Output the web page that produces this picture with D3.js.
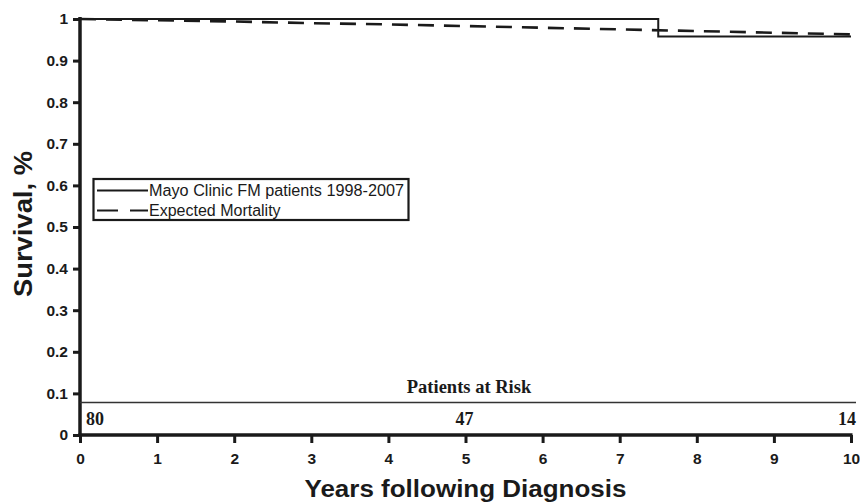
<!DOCTYPE html>
<html>
<head>
<meta charset="utf-8">
<script src="https://cdn.jsdelivr.net/npm/d3@7"></script>
<style>
  html, body { margin: 0; padding: 0; background: #fff; }
  svg { display: block; }
</style>
</head>
<body>
<svg id="chart" width="860" height="504"></svg>
<script>
// ---- data ----
const xTicks = [0, 1, 2, 3, 4, 5, 6, 7, 8, 9, 10];
const yTicks = [0, 0.1, 0.2, 0.3, 0.4, 0.5, 0.6, 0.7, 0.8, 0.9, 1];
const yTickLabels = ["0", "0.1", "0.2", "0.3", "0.4", "0.5", "0.6", "0.7", "0.8", "0.9", "1"];
// Kaplan-Meier (step) survival of observed cohort
const kmYears = [0, 7.5, 10];
const kmSurvival = [1.0, 0.958, 0.958];
// Expected mortality curve
const expYears = [0, 1, 2, 3, 4, 5, 6, 7, 8, 9, 10];
const expSurvival = [1.0, 0.997, 0.994, 0.990, 0.987, 0.983, 0.979, 0.975, 0.971, 0.967, 0.963];
// Patients at risk
const riskYears = [0, 5, 10];
const riskCounts = ["80", "47", "14"];
const seriesNames = ["Mayo Clinic FM patients 1998-2007", "Expected Mortality"];

const svg = d3.select("#chart");
const x = d3.scaleLinear().domain([0, 10]).range([80, 851]);
const y = d3.scaleLinear().domain([0, 1]).range([435, 19]);
const ink = "#1a1a1a";

// axes
const yAxis = d3.axisLeft(y).tickValues(yTicks)
  .tickFormat((d, i) => yTickLabels[i]).tickSize(7).tickSizeOuter(0).tickPadding(5);
const gy = svg.append("g").attr("transform", "translate(80,0)").call(yAxis);
gy.select(".domain").attr("stroke", ink).attr("stroke-width", 3.5)
  .attr("d", `M0,${y(1) - 2}V${y(0) + 2}`);
gy.selectAll(".tick line").attr("stroke", ink).attr("stroke-width", 3);
gy.selectAll(".tick text").attr("fill", ink)
  .style("font-family", "Arial, 'Liberation Sans', sans-serif")
  .style("font-weight", "bold").style("font-size", "15.5px");

const xAxis = d3.axisBottom(x).tickValues(xTicks).tickFormat(d3.format("d"))
  .tickSize(8).tickSizeOuter(0).tickPadding(10);
const gx = svg.append("g").attr("transform", "translate(0,435)").call(xAxis);
gx.select(".domain").attr("stroke", ink).attr("stroke-width", 3.5)
  .attr("d", `M${x(0) - 1.5},0H${x(10) + 1.5}`);
gx.selectAll(".tick line").attr("stroke", ink).attr("stroke-width", 3);
gx.selectAll(".tick text").attr("fill", ink)
  .style("font-family", "Arial, 'Liberation Sans', sans-serif")
  .style("font-weight", "bold").style("font-size", "15.5px");

// titles
svg.append("text")
  .attr("x", x(5)).attr("y", 497)
  .attr("text-anchor", "middle")
  .attr("textLength", 322).attr("lengthAdjust", "spacingAndGlyphs")
  .style("font-family", "Arial, 'Liberation Sans', sans-serif")
  .style("font-weight", "bold").style("font-size", "23px").attr("fill", ink)
  .text("Years following Diagnosis");

svg.append("text")
  .attr("transform", `translate(32,224) rotate(-90)`)
  .attr("text-anchor", "middle")
  .attr("textLength", 146).attr("lengthAdjust", "spacingAndGlyphs")
  .style("font-family", "Arial, 'Liberation Sans', sans-serif")
  .style("font-weight", "bold").style("font-size", "25px").attr("fill", ink)
  .text("Survival, %");

// curves
const kmLine = d3.line().x((d, i) => x(kmYears[i])).y(d => y(d)).curve(d3.curveStepAfter);
const expLine = d3.line().x((d, i) => x(expYears[i])).y(d => y(d));

svg.append("path").datum(expSurvival)
  .attr("d", expLine).attr("fill", "none").attr("stroke", ink)
  .attr("stroke-width", 2.6).attr("stroke-dasharray", "16,10");

svg.append("path").datum(kmSurvival)
  .attr("d", kmLine).attr("fill", "none").attr("stroke", ink)
  .attr("stroke-width", 2);

// patients at risk
svg.append("line")
  .attr("x1", x(0)).attr("x2", x(10) + 5)
  .attr("y1", y(0.078)).attr("y2", y(0.078))
  .attr("stroke", "#333").attr("stroke-width", 1.5);

svg.append("text")
  .attr("x", 469).attr("y", 393)
  .attr("text-anchor", "middle")
  .style("font-family", "'Times New Roman', 'Liberation Serif', serif")
  .style("font-weight", "bold").style("font-size", "18.5px").attr("fill", ink)
  .text("Patients at Risk");

svg.selectAll("text.risk").data(riskCounts).enter().append("text")
  .attr("class", "risk")
  .attr("x", (d, i) => x(riskYears[i]) + (i === 0 ? 6 : i === riskCounts.length - 1 ? 5 : -1))
  .attr("y", 425)
  .attr("text-anchor", (d, i) => i === 0 ? "start" : i === riskCounts.length - 1 ? "end" : "middle")
  .style("font-family", "'Times New Roman', 'Liberation Serif', serif")
  .style("font-weight", "bold").style("font-size", "18px").attr("fill", ink)
  .text(d => d);

// legend
const lg = svg.append("g");
lg.append("rect")
  .attr("x", 93.5).attr("y", 179).attr("width", 315).attr("height", 41)
  .attr("fill", "#fff").attr("stroke", ink).attr("stroke-width", 2.2);
const rows = lg.selectAll("g.row").data(seriesNames).enter().append("g")
  .attr("class", "row")
  .attr("transform", (d, i) => `translate(0,${190.5 + i * 20})`);
rows.append("line")
  .attr("x1", 97).attr("x2", 148).attr("y1", 0).attr("y2", 0)
  .attr("stroke", ink).attr("stroke-width", 2.2)
  .attr("stroke-dasharray", (d, i) => i === 1 ? "21,12" : null);
rows.append("text")
  .attr("x", 149).attr("y", 5.5)
  .attr("textLength", (d, i) => i === 0 ? 255 : null)
  .attr("lengthAdjust", "spacingAndGlyphs")
  .style("font-family", "Arial, 'Liberation Sans', sans-serif")
  .style("font-size", "16px").attr("fill", ink)
  .text(d => d);
</script>
</body>
</html>
